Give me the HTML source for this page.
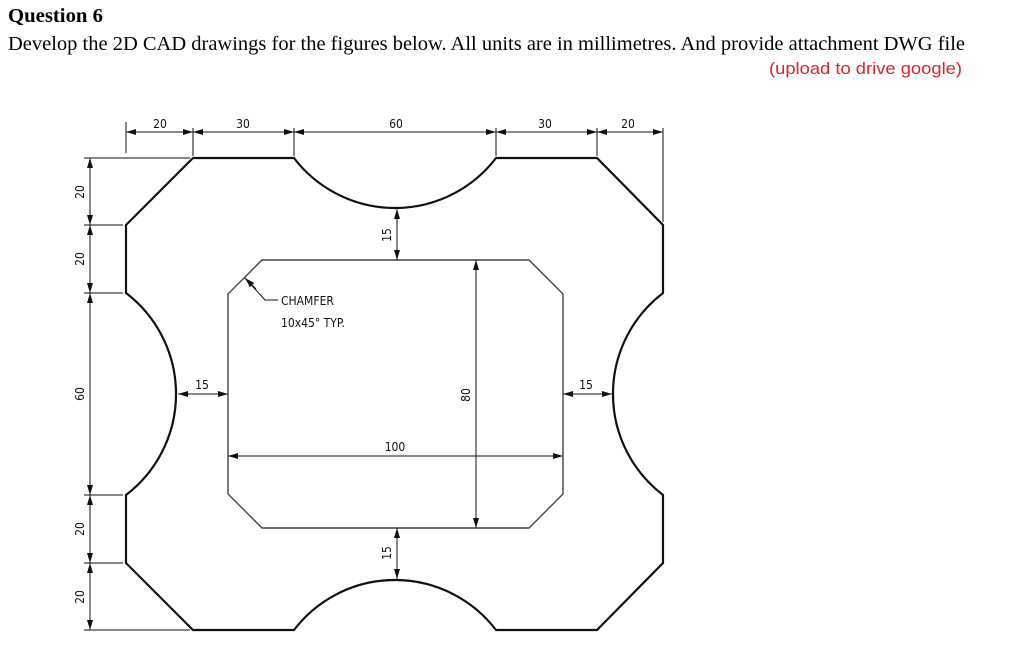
<!DOCTYPE html>
<html><head><style>html,body{margin:0;padding:0;background:#fff;}svg{display:block}</style></head>
<body>
<svg width="1024" height="659" viewBox="0 0 1024 659" xmlns="http://www.w3.org/2000/svg">
<defs>
<marker id="a" viewBox="0 0 10 6" refX="10" refY="3" markerWidth="10" markerHeight="6" orient="auto-start-reverse" markerUnits="userSpaceOnUse"><path d="M0,0 L10,3 L0,6z" fill="#111"/></marker>
</defs>
<text x="8" y="22" font-family="Liberation Serif, serif" font-weight="bold" font-size="20" textLength="95" lengthAdjust="spacingAndGlyphs">Question 6</text>
<text x="8" y="50" font-family="Liberation Serif, serif" font-size="20" textLength="957" lengthAdjust="spacingAndGlyphs">Develop the 2D CAD drawings for the figures below. All units are in millimetres. And provide attachment DWG file</text>
<text x="769" y="74" font-family="Liberation Sans, sans-serif" font-size="17" fill="#e0202a" textLength="193" lengthAdjust="spacingAndGlyphs">(upload to drive google)</text>

<!-- outer shape -->
<path d="M193,158 L294,158 A127,127 0 0 0 496,158 L597,158 L663,225 L663,293 A127,127 0 0 0 663,495 L663,563 L597,630 L496,630 A127,127 0 0 0 294,630 L193,630 L126,563 L126,495 A127,127 0 0 0 126,293 L126,225 Z" fill="none" stroke="#111" stroke-width="2.2"/>
<!-- inner rect -->
<path d="M262,260 L529,260 L563,294 L563,494 L529,528 L262,528 L228,494 L228,294 Z" fill="none" stroke="#444" stroke-width="1.4"/>

<g stroke="#111" stroke-width="1" fill="none">
<!-- top extension lines -->
<line x1="126" y1="122" x2="126" y2="153"/>
<line x1="193" y1="128" x2="193" y2="156"/>
<line x1="294" y1="128" x2="294" y2="156"/>
<line x1="496" y1="128" x2="496" y2="156"/>
<line x1="597" y1="128" x2="597" y2="156"/>
<line x1="663" y1="128" x2="663" y2="222"/>
<!-- top dims -->
<line x1="126" y1="132" x2="193" y2="132" marker-start="url(#a)" marker-end="url(#a)"/>
<line x1="193" y1="132" x2="294" y2="132" marker-start="url(#a)" marker-end="url(#a)"/>
<line x1="294" y1="132" x2="496" y2="132" marker-start="url(#a)" marker-end="url(#a)"/>
<line x1="496" y1="132" x2="597" y2="132" marker-start="url(#a)" marker-end="url(#a)"/>
<line x1="597" y1="132" x2="663" y2="132" marker-start="url(#a)" marker-end="url(#a)"/>
<!-- left extension -->
<line x1="84" y1="158" x2="190" y2="158"/>
<line x1="84" y1="225" x2="123" y2="225"/>
<line x1="84" y1="293" x2="123" y2="293"/>
<line x1="84" y1="495" x2="123" y2="495"/>
<line x1="84" y1="563" x2="123" y2="563"/>
<line x1="84" y1="630" x2="190" y2="630"/>
<!-- left dims -->
<line x1="90" y1="158" x2="90" y2="225" marker-start="url(#a)" marker-end="url(#a)"/>
<line x1="90" y1="225" x2="90" y2="293" marker-start="url(#a)" marker-end="url(#a)"/>
<line x1="90" y1="293" x2="90" y2="495" marker-start="url(#a)" marker-end="url(#a)"/>
<line x1="90" y1="495" x2="90" y2="563" marker-start="url(#a)" marker-end="url(#a)"/>
<line x1="90" y1="563" x2="90" y2="630" marker-start="url(#a)" marker-end="url(#a)"/>
<!-- inner dims -->
<line x1="397" y1="209" x2="397" y2="260" marker-start="url(#a)" marker-end="url(#a)"/>
<line x1="397" y1="528" x2="397" y2="579" marker-start="url(#a)" marker-end="url(#a)"/>
<line x1="178" y1="394" x2="228" y2="394" marker-start="url(#a)" marker-end="url(#a)"/>
<line x1="563" y1="394" x2="612" y2="394" marker-start="url(#a)" marker-end="url(#a)"/>
<line x1="228" y1="456" x2="563" y2="456" marker-start="url(#a)" marker-end="url(#a)"/>
<line x1="476" y1="260" x2="476" y2="528" marker-start="url(#a)" marker-end="url(#a)"/>
<!-- chamfer leader -->
<polyline points="278,300 265,300 245,278" />
<line x1="256" y1="289" x2="245" y2="278" marker-end="url(#a)"/>
</g>

<g font-family="DejaVu Sans Condensed, DejaVu Sans, sans-serif" font-size="12" fill="#111" text-anchor="middle">
<text x="160" y="128">20</text>
<text x="243" y="128">30</text>
<text x="396" y="128">60</text>
<text x="545" y="128">30</text>
<text x="628" y="128">20</text>
<text transform="translate(84,192) rotate(-90)">20</text>
<text transform="translate(84,259) rotate(-90)">20</text>
<text transform="translate(84,394) rotate(-90)">60</text>
<text transform="translate(84,529) rotate(-90)">20</text>
<text transform="translate(84,597) rotate(-90)">20</text>
<text transform="translate(391,235) rotate(-90)">15</text>
<text transform="translate(391,553) rotate(-90)">15</text>
<text transform="translate(470,395) rotate(-90)">80</text>
<text x="202" y="389">15</text>
<text x="586" y="389">15</text>
<text x="395" y="451">100</text>
<text x="281" y="305" text-anchor="start">CHAMFER</text>
<text x="281" y="327" text-anchor="start">10x45° TYP.</text>
</g>
</svg>
</body></html>
